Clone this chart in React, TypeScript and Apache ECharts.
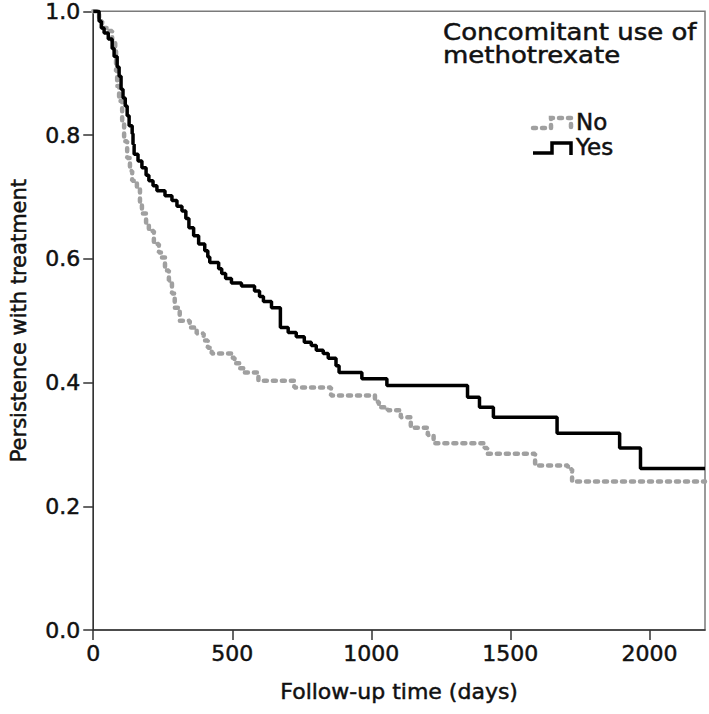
import React, { useEffect, useRef } from "react";
import * as echarts from "echarts";

// Kaplan-Meier step events: day at which persistence drops to the given value
const yesDays = [0, 21, 29, 39, 54, 68, 75, 86, 93, 100, 107, 115, 122, 129, 140, 143, 147, 161, 175, 190, 200, 215, 229, 258, 283, 301, 319, 333, 344, 361, 379, 401, 412, 419, 451, 462, 476, 497, 533, 580, 598, 612, 641, 673, 701, 730, 759, 784, 802, 827, 845, 873, 884, 966, 1056, 1346, 1389, 1439, 1668, 1893, 1968, 2200];
const yesValues = [1.0, 0.984, 0.973, 0.965, 0.955, 0.94, 0.927, 0.91, 0.895, 0.874, 0.86, 0.847, 0.831, 0.815, 0.802, 0.785, 0.769, 0.758, 0.747, 0.735, 0.726, 0.718, 0.71, 0.702, 0.694, 0.685, 0.677, 0.665, 0.65, 0.637, 0.624, 0.613, 0.603, 0.594, 0.584, 0.576, 0.568, 0.561, 0.556, 0.548, 0.539, 0.531, 0.521, 0.489, 0.481, 0.474, 0.465, 0.46, 0.452, 0.447, 0.439, 0.427, 0.416, 0.406, 0.395, 0.376, 0.36, 0.344, 0.318, 0.294, 0.261, 0.261];

const noDays = [0, 21, 32, 50, 68, 79, 82, 86, 93, 104, 111, 122, 132, 140, 157, 168, 175, 190, 200, 218, 236, 247, 258, 272, 283, 293, 311, 347, 372, 397, 412, 426, 497, 508, 526, 544, 594, 723, 855, 1013, 1027, 1059, 1106, 1142, 1203, 1224, 1407, 1417, 1589, 1707, 1722, 2200];
const noValues = [1.0, 0.984, 0.973, 0.968, 0.952, 0.939, 0.903, 0.879, 0.855, 0.823, 0.79, 0.763, 0.742, 0.726, 0.715, 0.689, 0.673, 0.658, 0.645, 0.624, 0.61, 0.602, 0.581, 0.565, 0.544, 0.521, 0.5, 0.489, 0.479, 0.468, 0.456, 0.447, 0.44, 0.431, 0.423, 0.416, 0.403, 0.392, 0.379, 0.369, 0.36, 0.355, 0.344, 0.327, 0.315, 0.302, 0.294, 0.285, 0.266, 0.26, 0.24, 0.24];

const xTicks = [0, 500, 1000, 1500, 2000];
const legendTitle = ["Concomitant use of", "methotrexate"];
const legendLabels = ["No", "Yes"];

const FONT = "'DejaVu Sans', sans-serif";
const GRAY = "#a0a0a0";
const INK = "#111";
const thick = { textBorderColor: INK, textBorderWidth: 0.5 };

export default function App() {
  const ref = useRef<HTMLDivElement>(null);
  useEffect(() => {
    if (!ref.current) return;
    const chart = echarts.init(ref.current, null, { renderer: "svg" });
    const yesData = yesDays.map((d, i) => [d, yesValues[i]]);
    const noData = noDays.map((d, i) => [d, noValues[i]]);
    const gTxt = { fill: INK, font: `23px ${FONT}`, stroke: INK, lineWidth: 0.5 };
    chart.setOption({
      animation: false,
      backgroundColor: "#fff",
      grid: {
        left: 90,
        right: 4,
        top: 10,
        bottom: 84,
        show: true,
        borderColor: "#7a7a7a",
        borderWidth: 1.5,
      },
      xAxis: {
        type: "value",
        min: 0,
        max: 2200,
        interval: 500,
        name: "Follow-up time (days)",
        nameLocation: "middle",
        nameGap: 50,
        nameTextStyle: { fontFamily: FONT, fontSize: 22, color: INK, ...thick },
        axisLine: { show: true, lineStyle: { color: "#333", width: 1.5 } },
        axisTick: { show: true, length: 10, lineStyle: { color: "#333", width: 1.5 } },
        axisLabel: {
          fontFamily: FONT,
          fontSize: 22,
          color: INK,
          margin: 12,
          showMaxLabel: false,
          ...thick,
          formatter: (v: number) => (xTicks.includes(v) ? String(v) : ""),
        },
        splitLine: { show: false },
      },
      yAxis: {
        type: "value",
        min: 0,
        max: 1,
        interval: 0.2,
        name: "Persistence with treatment",
        nameLocation: "middle",
        nameGap: 64,
        nameTextStyle: { fontFamily: FONT, fontSize: 21, color: INK, ...thick },
        axisLine: { show: true, lineStyle: { color: "#333", width: 1.5 } },
        axisTick: { show: true, inside: false, length: 10, lineStyle: { color: "#333", width: 1.5 } },
        axisLabel: {
          fontFamily: FONT,
          fontSize: 22,
          color: INK,
          margin: 13,
          ...thick,
          formatter: (v: number) => v.toFixed(1),
        },
        splitLine: { show: false },
      },
      series: [
        {
          name: "No",
          type: "line",
          step: "end",
          showSymbol: false,
          data: noData,
          lineStyle: { color: GRAY, width: 4.5, type: [3, 6], cap: "round" },
          z: 2,
        },
        {
          name: "Yes",
          type: "line",
          step: "end",
          showSymbol: false,
          data: yesData,
          lineStyle: { color: "#000", width: 3.5 },
          z: 3,
        },
      ],
      graphic: [
        { type: "text", x: 443, y: 21, scaleX: 1.13, style: { ...gTxt, text: legendTitle[0] } },
        { type: "text", x: 443, y: 44, scaleX: 1.13, style: { ...gTxt, text: legendTitle[1] } },
        {
          type: "polyline",
          shape: { points: [[533, 128], [551, 128], [551, 118], [571, 118], [571, 129]] },
          style: { stroke: GRAY, lineWidth: 4.5, lineDash: [3, 6], lineCap: "round", fill: null },
        },
        { type: "text", x: 576, y: 110, style: { ...gTxt, text: legendLabels[0] } },
        {
          type: "polyline",
          shape: { points: [[533, 153], [552, 153], [552, 143], [571, 143], [571, 155]] },
          style: { stroke: "#000", lineWidth: 3.5, fill: null },
        },
        { type: "text", x: 576, y: 135, style: { ...gTxt, text: legendLabels[1] } },
      ],
    });
    return () => chart.dispose();
  }, []);
  return (
    <div
      ref={ref}
      style={{ position: "fixed", left: 0, top: 0, width: 709, height: 714, background: "#fff" }}
    />
  );
}
